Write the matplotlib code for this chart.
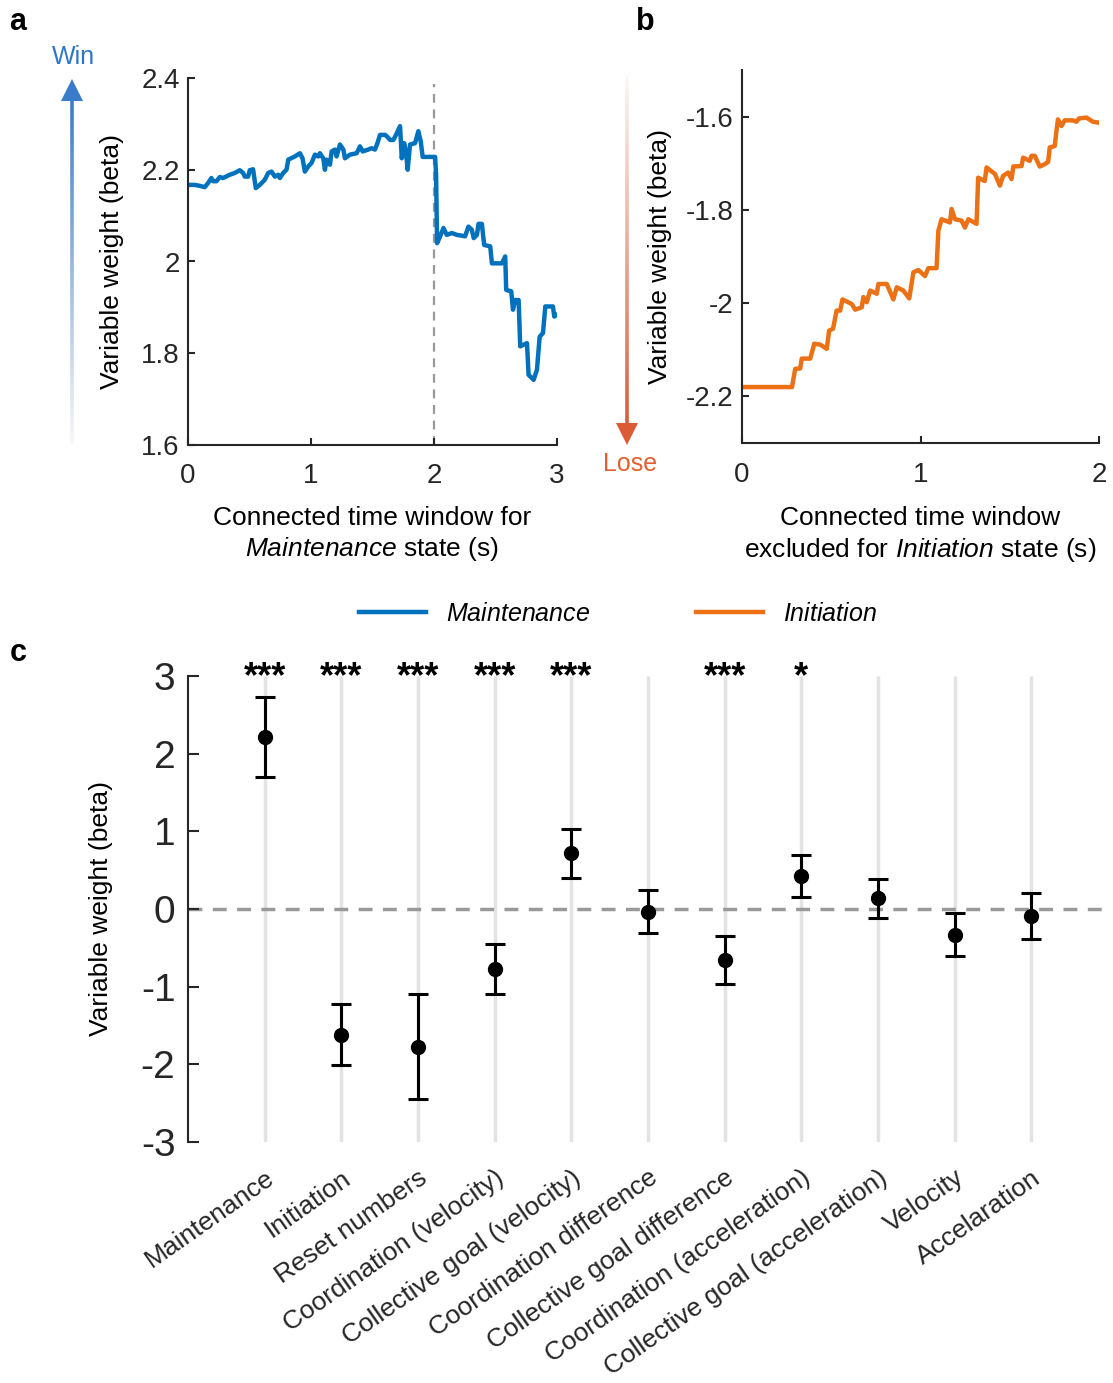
import numpy as np
import matplotlib
matplotlib.use("Agg")
import matplotlib.pyplot as plt
from matplotlib.collections import LineCollection
from matplotlib.patches import Polygon
from matplotlib.colors import to_rgb

plt.rcParams['font.family'] = ['Liberation Sans', 'DejaVu Sans']
plt.rcParams['mathtext.fontset'] = 'custom'
plt.rcParams['mathtext.rm'] = 'Liberation Sans'
plt.rcParams['mathtext.it'] = 'Liberation Sans:italic'
plt.rcParams['axes.unicode_minus'] = False

# ---- panel a: Maintenance window (s) vs beta
maint_t = [0.000, 0.054, 0.095, 0.136, 0.163, 0.190, 0.204, 0.231, 0.258, 0.285,
           0.339, 0.380, 0.421, 0.448, 0.462, 0.489, 0.502, 0.529, 0.551, 0.584,
           0.624, 0.652, 0.679, 0.706, 0.733, 0.747, 0.774, 0.801, 0.815, 0.869,
           0.910, 0.931, 0.950, 0.977, 1.005, 1.032, 1.059, 1.072, 1.100, 1.113,
           1.127, 1.154, 1.168, 1.195, 1.208, 1.235, 1.263, 1.276, 1.317, 1.371,
           1.398, 1.420, 1.466, 1.493, 1.520, 1.539, 1.561, 1.602, 1.616, 1.643,
           1.670, 1.691, 1.724, 1.738, 1.757, 1.773, 1.786, 1.805, 1.846, 1.873,
           1.892, 1.908, 1.968, 2.009, 2.017, 2.025, 2.044, 2.077, 2.104, 2.145,
           2.186, 2.253, 2.280, 2.308, 2.323, 2.349, 2.362, 2.389, 2.408, 2.457,
           2.471, 2.552, 2.579, 2.587, 2.628, 2.642, 2.661, 2.688, 2.701, 2.756,
           2.769, 2.810, 2.837, 2.859, 2.886, 2.905, 2.967, 2.978, 3.000]
maint_beta = [2.167, 2.167, 2.165, 2.162, 2.171, 2.182, 2.175, 2.175, 2.184, 2.182,
              2.189, 2.193, 2.199, 2.193, 2.185, 2.185, 2.199, 2.201, 2.160, 2.167,
              2.178, 2.193, 2.196, 2.185, 2.189, 2.182, 2.193, 2.200, 2.222, 2.229,
              2.236, 2.225, 2.196, 2.207, 2.215, 2.233, 2.229, 2.236, 2.225, 2.200,
              2.222, 2.211, 2.240, 2.244, 2.229, 2.255, 2.244, 2.225, 2.233, 2.236,
              2.251, 2.240, 2.244, 2.247, 2.244, 2.257, 2.276, 2.276, 2.273, 2.265,
              2.265, 2.276, 2.295, 2.225, 2.258, 2.236, 2.200, 2.255, 2.258, 2.284,
              2.262, 2.228, 2.228, 2.228, 2.189, 2.040, 2.051, 2.073, 2.058, 2.062,
              2.058, 2.055, 2.076, 2.069, 2.051, 2.058, 2.082, 2.082, 2.036, 2.033,
              1.996, 1.996, 2.011, 1.938, 1.935, 1.895, 1.916, 1.916, 1.815, 1.822,
              1.753, 1.742, 1.764, 1.836, 1.844, 1.902, 1.902, 1.880, 1.884]

# ---- panel b: Initiation window (s) vs beta
init_t = [0.000, 0.280, 0.298, 0.326, 0.335, 0.382, 0.405, 0.438, 0.475, 0.488,
          0.510, 0.530, 0.550, 0.563, 0.615, 0.634, 0.671, 0.680, 0.699, 0.718,
          0.755, 0.764, 0.811, 0.848, 0.867, 0.904, 0.937, 0.960, 0.988, 1.025,
          1.044, 1.090, 1.100, 1.118, 1.165, 1.174, 1.193, 1.230, 1.249, 1.268,
          1.314, 1.323, 1.360, 1.370, 1.417, 1.445, 1.463, 1.491, 1.510, 1.520,
          1.566, 1.575, 1.612, 1.622, 1.640, 1.668, 1.696, 1.715, 1.724, 1.752,
          1.761, 1.770, 1.790, 1.808, 1.855, 1.873, 1.888, 1.930, 1.966, 2.000]
init_beta = [-2.180, -2.180, -2.141, -2.140, -2.119, -2.119, -2.087, -2.089, -2.098, -2.059,
             -2.055, -2.016, -2.016, -1.992, -2.002, -2.014, -2.009, -1.987, -1.998, -1.973,
             -1.980, -1.959, -1.959, -1.992, -1.966, -1.973, -1.990, -1.934, -1.929, -1.942,
             -1.925, -1.925, -1.845, -1.820, -1.827, -1.798, -1.820, -1.823, -1.838, -1.820,
             -1.830, -1.731, -1.738, -1.709, -1.723, -1.748, -1.727, -1.720, -1.734, -1.707,
             -1.706, -1.688, -1.695, -1.684, -1.684, -1.707, -1.702, -1.697, -1.666, -1.663,
             -1.633, -1.606, -1.620, -1.608, -1.608, -1.611, -1.604, -1.602, -1.611, -1.613]

a_yticks = [1.6, 1.8, 2.0, 2.2, 2.4]
a_ylabels = ['1.6', '1.8', '2', '2.2', '2.4']
b_yticks = [-2.2, -2.0, -1.8, -1.6]
b_ylabels = ['-2.2', '-2', '-1.8', '-1.6']

# ---- panel c: variable weights
variables = ['Maintenance', 'Initiation', 'Reset numbers', 'Coordination (velocity)',
             'Collective goal (velocity)', 'Coordination difference',
             'Collective goal difference', 'Coordination (acceleration)',
             'Collective goal (acceleration)', 'Velocity', 'Accelaration']
beta_mean = [2.21, -1.62, -1.78, -0.77, 0.72, -0.04, -0.66, 0.42, 0.14, -0.33, -0.09]
beta_high = [2.73, -1.22, -1.09, -0.45, 1.03, 0.24, -0.35, 0.69, 0.39, -0.05, 0.21]
beta_low = [1.70, -2.01, -2.45, -1.10, 0.40, -0.31, -0.96, 0.15, -0.12, -0.61, -0.38]
signif = ['***', '***', '***', '***', '***', '', '***', '*', '', '', '']
c_yticks = [-3, -2, -1, 0, 1, 2, 3]
c_ylabels = ['-3', '-2', '-1', '0', '1', '2', '3']

blue = '#0072BD'
orange = '#EC7014'
W, H = 1113, 1383

fig = plt.figure(figsize=(W / 100, H / 100), dpi=100)


def style(ax, fs=20, tl=5):
    for s in ['top', 'right']:
        ax.spines[s].set_visible(False)
    for s in ['left', 'bottom']:
        ax.spines[s].set_linewidth(1.5)
        ax.spines[s].set_color('#262626')
    ax.tick_params(direction='in', length=tl, width=1.5, colors='#262626',
                   labelsize=fs, labelcolor='#262626')


# panel a
ax_a = fig.add_axes([188 / W, 1 - 445 / H, 369 / W, 367 / H])
line_m, = ax_a.plot(maint_t, maint_beta, color=blue, lw=3.2, label='$\\it{Maintenance}$')
ax_a.axvline(2, ymax=0.985, color='#999999', lw=1.6, ls=(0, (4, 3)), zorder=0)
ax_a.set_xlim(0, 3)
ax_a.set_ylim(1.6, 2.4)
ax_a.set_xticks([0, 1, 2, 3])
ax_a.set_yticks(a_yticks)
ax_a.set_yticklabels(a_ylabels)
style(ax_a)
ax_a.tick_params(axis='x', pad=13)
ax_a.tick_params(axis='y', pad=6)
ax_a.set_ylabel('Variable weight (beta)', fontsize=19, labelpad=12)
ax_a.set_xlabel('Connected time window for\n$\\it{Maintenance}$ state (s)',
                fontsize=19, labelpad=12, linespacing=1.25)

# panel b
ax_b = fig.add_axes([742 / W, 1 - 443 / H, 357 / W, 373 / H])
line_i, = ax_b.plot(init_t, init_beta, color=orange, lw=3.2, label='$\\it{Initiation}$')
ax_b.set_xlim(0, 2)
ax_b.set_ylim(-2.3, -1.5)
ax_b.set_xticks([0, 1, 2])
ax_b.set_yticks(b_yticks)
ax_b.set_yticklabels(b_ylabels)
style(ax_b)
ax_b.tick_params(axis='x', pad=14)
ax_b.tick_params(axis='y', pad=6)
ax_b.set_ylabel('Variable weight (beta)', fontsize=19, labelpad=10)
ax_b.set_xlabel('Connected time window\nexcluded for $\\it{Initiation}$ state (s)',
                fontsize=19, labelpad=13, linespacing=1.25)

# legend
fig.legend(handles=[line_m, line_i], loc='center', bbox_to_anchor=(618 / W, 1 - 614 / H),
           ncol=2, frameon=False, fontsize=18, handlelength=2.7, handletextpad=0.8,
           columnspacing=4.2)

# panel c
ax_c = fig.add_axes([188 / W, 1 - 1142 / H, 920 / W, 466 / H])
xpos = np.arange(1, len(variables) + 1)
ax_c.vlines(xpos, -3, 3, color='#e3e3e3', lw=2.5, zorder=0)
ax_c.axhline(0, color='#999999', lw=2.5, ls=(0, (4, 3)), zorder=1)
mean = np.array(beta_mean)
err = [mean - np.array(beta_low), np.array(beta_high) - mean]
ax_c.errorbar(xpos, mean, yerr=err, fmt='o', color='k', ms=10, elinewidth=2.2,
              capsize=7, capthick=2.2, zorder=3)
for x, s in zip(xpos, signif):
    if s:
        ax_c.text(x, 2.86, s, ha='center', va='baseline', fontsize=26, fontweight='bold')
ax_c.set_xlim(0, 12)
ax_c.set_ylim(-3, 3)
ax_c.set_yticks(c_yticks)
ax_c.set_yticklabels(c_ylabels)
ax_c.set_xticks(xpos)
ax_c.set_xticklabels(variables, rotation=35, ha='right', va='top', rotation_mode='anchor')
style(ax_c, fs=28, tl=8)
ax_c.spines['bottom'].set_visible(False)
ax_c.tick_params(axis='x', length=0, labelsize=19, pad=17)
ax_c.tick_params(axis='y', pad=9)
ax_c.set_ylabel('Variable weight (beta)', fontsize=19, labelpad=20)

# overlay for gradient arrows and panel letters
ov = fig.add_axes([0, 0, 1, 1], zorder=-1)
ov.set_xlim(0, W)
ov.set_ylim(H, 0)
ov.axis('off')


def grad_arrow(x, y_start, y_end, color, head=22):
    c = np.array(to_rgb(color))
    direction = np.sign(y_end - y_start)
    shaft_end = y_end - direction * head
    ys = np.linspace(y_start, shaft_end, 200)
    segs = [[(x, ys[k]), (x, ys[k + 1])] for k in range(len(ys) - 1)]
    f = np.linspace(0, 1, len(segs))[:, None]
    cols = (1 - f) * np.array([0.98, 0.97, 0.97]) + f * c
    ov.add_collection(LineCollection(segs, colors=cols, linewidths=2.6))
    ov.add_patch(Polygon([(x - 11, shaft_end), (x + 11, shaft_end), (x, y_end)],
                         closed=True, color=color, lw=0))


grad_arrow(72, 445, 79, '#3a7cc9')
grad_arrow(627, 75, 445, '#dc5b35')
ov.text(73, 57, 'Win', color='#2f77c6', fontsize=18, ha='center', va='center')
ov.text(630, 464, 'Lose', color='#e0602f', fontsize=18, ha='center', va='center')
ov.text(18, 22, 'a', fontsize=22, fontweight='bold', ha='center', va='center')
ov.text(645, 22, 'b', fontsize=22, fontweight='bold', ha='center', va='center')
ov.text(18, 653, 'c', fontsize=22, fontweight='bold', ha='center', va='center')

fig.savefig('out.png', dpi=100)
